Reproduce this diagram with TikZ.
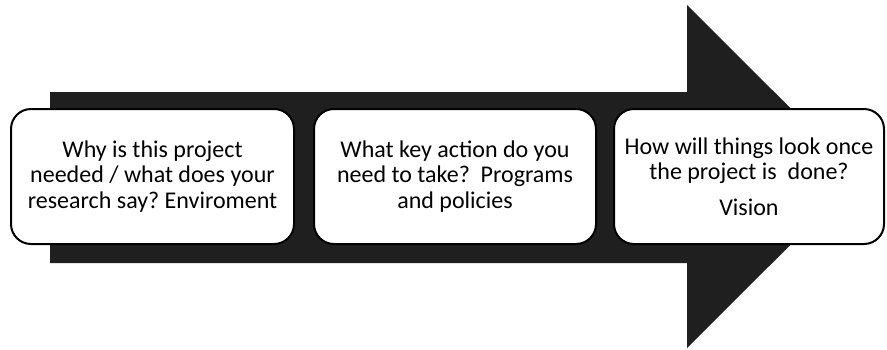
\documentclass[tikz,border=0pt]{standalone}
\usepackage{fontspec}
\setmainfont{Carlito}
\frenchspacing
\begin{document}
\begin{tikzpicture}[x=1pt,y=-1pt,
  stagebox/.style={draw=black, line width=2pt, fill=white, rounded corners=20pt,
    align=center, inner sep=0pt, minimum height=135pt,
    font=\fontsize{24}{25.5}\selectfont},
  bigarrow/.style={fill=black!88, draw=none}]
  \useasboundingbox (0,0) rectangle (887,349);
  % the broad arrow behind the three stages
  \path[bigarrow] (50,92) -- (687,92) -- (687,5) -- (859,176.5) -- (687,348)
    -- (687,263) -- (50,263) -- cycle;
  % the three stages
  \node[stagebox, minimum width=283pt] (why) at (152.5,176.5)
    {Why is this project\\needed / what does your\\research say? Enviroment};
  \node[stagebox, minimum width=282pt] (what) at (455,176.5)
    {What key action do you\\need to take?\ \ Programs\\and policies};
  \node[stagebox, minimum width=270pt] (how) at (749,176.5)
    {How will things look once\\the project is\ \ done?\\[10pt]Vision};
\end{tikzpicture}
\end{document}
